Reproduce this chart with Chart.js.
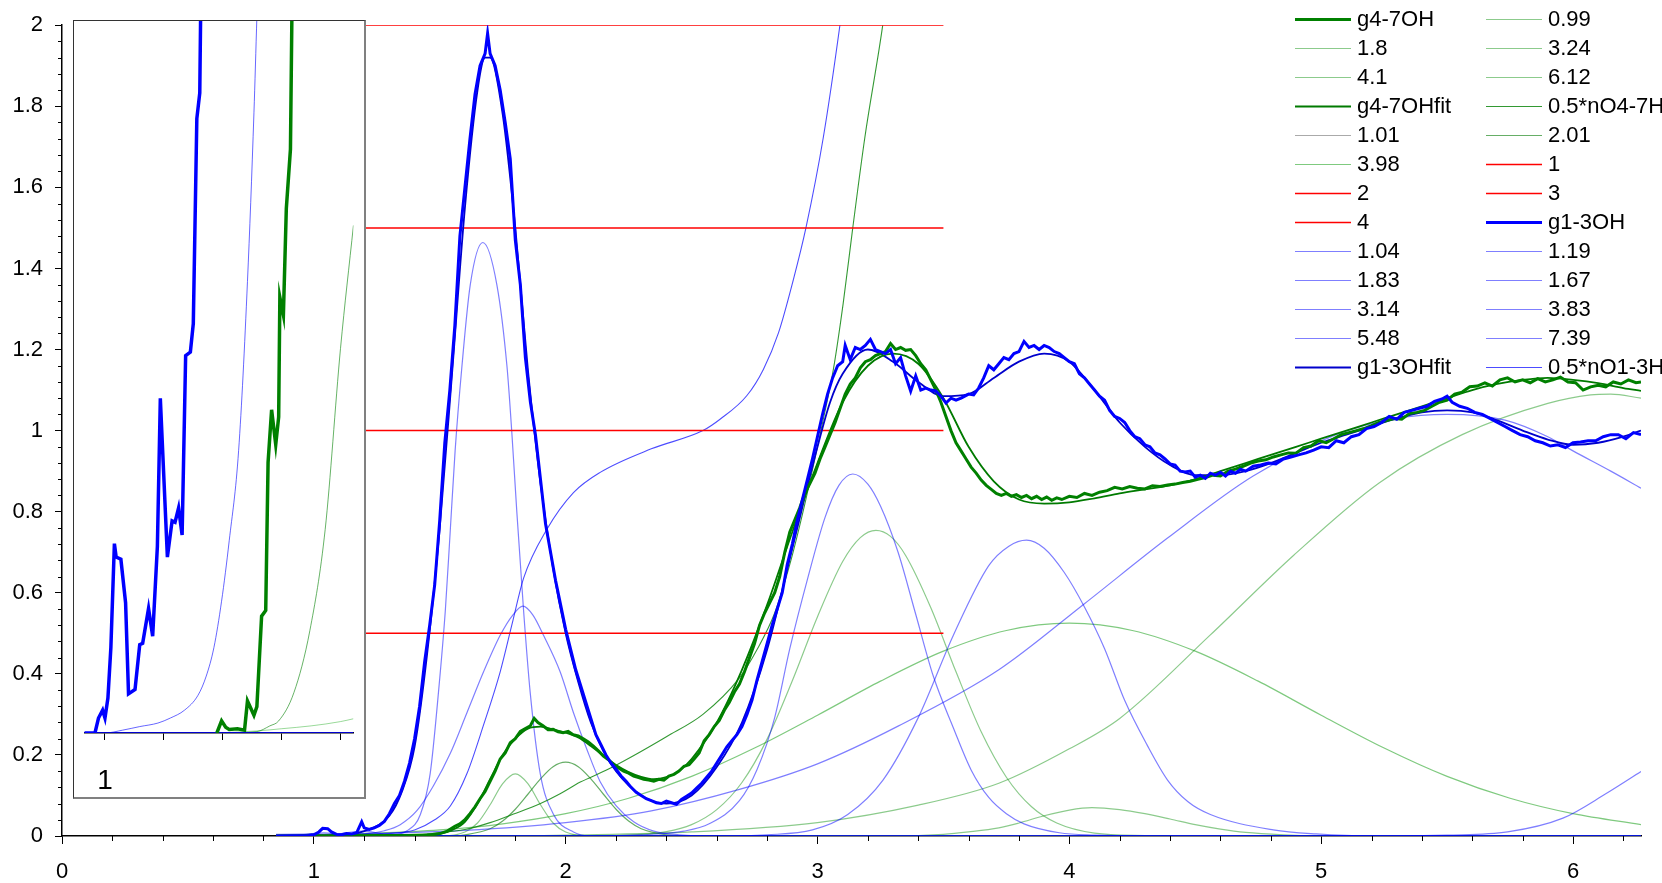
<!DOCTYPE html>
<html>
<head>
<meta charset="utf-8">
<script src="https://cdn.jsdelivr.net/npm/chart.js@4.4.1/dist/chart.umd.min.js"></script>
<style>
  html, body { margin: 0; padding: 0; background: #fff; }
  #wrap { position: relative; width: 1662px; height: 883px; }
  canvas { display: block; }
  #inset {
    position: absolute; left: 73px; top: 20px; width: 290px; height: 776px; background: #fff;
    border-left: 1px solid #333; border-top: 1px solid #333;
    border-right: 2px solid #808080; border-bottom: 2px solid #808080;
  }
</style>
</head>
<body>
<div id="wrap">
  <canvas id="chart" width="1662" height="883"></canvas>
  <div id="inset"><canvas id="insetChart" width="290" height="776"></canvas></div>
</div>
<script>
// axis ranges
const xMin = 0, xMax = 6.27, yMin = 0, yMax = 2;
const xStep = 1, yStep = 0.2, xMinor = 0.2, yMinor = 0.04;
const baseStart = 0.85;

// measured g(r) curves, [r, g]
const g47Data = [[0.85,0],[1.45,0.002],[1.5,0.006],[1.53,0.012],[1.56,0.024],[1.58,0.03],[1.6,0.04],[1.62,0.055],[1.64,0.072],[1.66,0.092],[1.68,0.11],[1.7,0.135],[1.72,0.16],[1.74,0.19],[1.76,0.205],[1.78,0.23],[1.8,0.24],[1.82,0.258],[1.84,0.265],[1.86,0.272],[1.875,0.29],[1.89,0.28],[1.91,0.272],[1.93,0.262],[1.95,0.263],[1.97,0.257],[1.99,0.255],[2.01,0.258],[2.03,0.25],[2.05,0.247],[2.07,0.24],[2.09,0.232],[2.11,0.222],[2.13,0.21],[2.15,0.197],[2.17,0.188],[2.19,0.176],[2.21,0.168],[2.23,0.16],[2.25,0.155],[2.27,0.148],[2.29,0.144],[2.31,0.14],[2.33,0.138],[2.35,0.135],[2.37,0.14],[2.39,0.138],[2.41,0.148],[2.43,0.152],[2.45,0.16],[2.47,0.172],[2.49,0.176],[2.51,0.19],[2.53,0.205],[2.55,0.235],[2.57,0.25],[2.59,0.27],[2.61,0.285],[2.63,0.31],[2.65,0.33],[2.67,0.355],[2.69,0.375],[2.71,0.405],[2.73,0.44],[2.75,0.475],[2.77,0.52],[2.79,0.55],[2.81,0.575],[2.83,0.6],[2.85,0.64],[2.87,0.7],[2.89,0.75],[2.91,0.78],[2.93,0.81],[2.95,0.845],[2.97,0.87],[2.99,0.895],[3.01,0.93],[3.03,0.96],[3.05,0.99],[3.07,1.02],[3.09,1.055],[3.11,1.09],[3.13,1.115],[3.15,1.13],[3.17,1.155],[3.19,1.17],[3.21,1.175],[3.23,1.185],[3.25,1.19],[3.27,1.195],[3.29,1.215],[3.31,1.2],[3.33,1.205],[3.35,1.198],[3.37,1.2],[3.39,1.185],[3.41,1.165],[3.43,1.15],[3.45,1.125],[3.47,1.1],[3.49,1.07],[3.51,1.035],[3.53,1.0],[3.55,0.97],[3.57,0.95],[3.59,0.93],[3.61,0.91],[3.63,0.895],[3.65,0.878],[3.67,0.865],[3.69,0.855],[3.71,0.845],[3.73,0.84],[3.75,0.845],[3.77,0.838],[3.79,0.842],[3.81,0.835],[3.83,0.84],[3.85,0.832],[3.87,0.838],[3.89,0.83],[3.91,0.836],[3.93,0.828],[3.95,0.834],[3.97,0.83],[4.0,0.838],[4.03,0.835],[4.06,0.845],[4.09,0.84],[4.12,0.848],[4.15,0.852],[4.18,0.86],[4.21,0.856],[4.24,0.862],[4.27,0.858],[4.3,0.856],[4.33,0.864],[4.36,0.862],[4.39,0.866],[4.42,0.868],[4.45,0.872],[4.48,0.875],[4.51,0.88],[4.54,0.884],[4.57,0.89],[4.6,0.888],[4.63,0.9],[4.66,0.905],[4.69,0.912],[4.72,0.92],[4.75,0.925],[4.78,0.928],[4.81,0.935],[4.84,0.94],[4.87,0.945],[4.9,0.944],[4.93,0.958],[4.96,0.962],[4.99,0.975],[5.02,0.97],[5.05,0.98],[5.08,0.99],[5.11,0.995],[5.14,1.0],[5.17,1.005],[5.2,1.012],[5.23,1.02],[5.26,1.025],[5.29,1.03],[5.32,1.028],[5.35,1.042],[5.38,1.045],[5.41,1.05],[5.44,1.06],[5.47,1.07],[5.5,1.075],[5.53,1.09],[5.56,1.095],[5.59,1.108],[5.62,1.11],[5.65,1.118],[5.68,1.11],[5.71,1.125],[5.74,1.13],[5.77,1.12],[5.8,1.125],[5.83,1.118],[5.86,1.128],[5.89,1.12],[5.92,1.125],[5.95,1.132],[5.98,1.12],[6.01,1.118],[6.04,1.1],[6.07,1.108],[6.1,1.112],[6.13,1.108],[6.16,1.12],[6.19,1.115],[6.22,1.125],[6.25,1.118],[6.27,1.12]];

const g13Data = [[0.85,0],[0.98,0.001],[1.0,0.003],[1.02,0.01],[1.035,0.019],[1.055,0.018],[1.07,0.01],[1.09,0.004],[1.11,0.003],[1.13,0.006],[1.15,0.005],[1.17,0.008],[1.19,0.035],[1.2,0.02],[1.22,0.016],[1.24,0.02],[1.26,0.026],[1.28,0.036],[1.3,0.055],[1.32,0.08],[1.34,0.1],[1.36,0.135],[1.38,0.18],[1.4,0.24],[1.42,0.32],[1.44,0.43],[1.46,0.52],[1.48,0.62],[1.5,0.78],[1.52,0.97],[1.54,1.1],[1.56,1.26],[1.58,1.48],[1.6,1.6],[1.62,1.72],[1.64,1.83],[1.66,1.9],[1.68,1.93],[1.69,1.98],[1.7,1.93],[1.72,1.9],[1.74,1.84],[1.76,1.76],[1.78,1.67],[1.8,1.47],[1.82,1.36],[1.84,1.18],[1.86,1.07],[1.88,0.99],[1.9,0.88],[1.92,0.77],[1.94,0.7],[1.96,0.63],[1.98,0.57],[2.0,0.51],[2.02,0.46],[2.04,0.41],[2.06,0.37],[2.08,0.33],[2.1,0.29],[2.12,0.25],[2.14,0.225],[2.16,0.2],[2.18,0.18],[2.2,0.165],[2.22,0.148],[2.24,0.135],[2.26,0.12],[2.28,0.108],[2.3,0.1],[2.32,0.092],[2.34,0.087],[2.36,0.082],[2.38,0.08],[2.4,0.086],[2.42,0.082],[2.44,0.078],[2.46,0.09],[2.48,0.098],[2.5,0.106],[2.52,0.118],[2.54,0.13],[2.56,0.145],[2.58,0.16],[2.6,0.18],[2.62,0.2],[2.64,0.22],[2.66,0.235],[2.68,0.25],[2.7,0.27],[2.72,0.3],[2.74,0.335],[2.76,0.385],[2.78,0.43],[2.8,0.475],[2.82,0.52],[2.84,0.56],[2.86,0.6],[2.88,0.67],[2.9,0.72],[2.92,0.78],[2.94,0.83],[2.96,0.88],[2.98,0.93],[3.0,0.985],[3.02,1.04],[3.04,1.09],[3.06,1.13],[3.08,1.16],[3.1,1.17],[3.11,1.21],[3.13,1.175],[3.15,1.205],[3.17,1.2],[3.19,1.21],[3.21,1.225],[3.23,1.2],[3.25,1.195],[3.27,1.19],[3.29,1.2],[3.31,1.165],[3.33,1.18],[3.35,1.135],[3.37,1.097],[3.39,1.135],[3.41,1.1],[3.43,1.105],[3.45,1.1],[3.47,1.098],[3.49,1.085],[3.51,1.068],[3.53,1.08],[3.55,1.075],[3.57,1.08],[3.6,1.09],[3.62,1.088],[3.64,1.105],[3.66,1.13],[3.68,1.16],[3.7,1.15],[3.72,1.165],[3.74,1.18],[3.76,1.175],[3.78,1.19],[3.8,1.195],[3.82,1.22],[3.84,1.205],[3.86,1.21],[3.88,1.2],[3.9,1.21],[3.92,1.205],[3.94,1.195],[3.96,1.19],[3.98,1.18],[4.0,1.17],[4.02,1.165],[4.04,1.14],[4.06,1.13],[4.08,1.115],[4.1,1.1],[4.12,1.085],[4.14,1.075],[4.16,1.05],[4.18,1.035],[4.2,1.03],[4.22,1.02],[4.24,1.0],[4.26,0.985],[4.28,0.98],[4.3,0.965],[4.32,0.96],[4.34,0.945],[4.36,0.94],[4.38,0.93],[4.4,0.918],[4.42,0.915],[4.44,0.9],[4.46,0.898],[4.48,0.9],[4.5,0.885],[4.52,0.89],[4.54,0.882],[4.56,0.895],[4.58,0.89],[4.6,0.897],[4.62,0.888],[4.64,0.9],[4.66,0.895],[4.68,0.905],[4.7,0.9],[4.73,0.912],[4.76,0.915],[4.79,0.92],[4.82,0.918],[4.85,0.93],[4.88,0.935],[4.91,0.94],[4.94,0.945],[4.97,0.952],[5.0,0.96],[5.03,0.958],[5.06,0.975],[5.09,0.97],[5.12,0.985],[5.15,0.99],[5.18,1.005],[5.21,1.01],[5.24,1.02],[5.27,1.035],[5.3,1.028],[5.33,1.045],[5.36,1.05],[5.39,1.055],[5.42,1.06],[5.45,1.072],[5.48,1.078],[5.5,1.085],[5.52,1.07],[5.55,1.06],[5.58,1.055],[5.61,1.045],[5.64,1.04],[5.67,1.03],[5.7,1.02],[5.73,1.01],[5.76,1.0],[5.79,0.99],[5.82,0.985],[5.85,0.975],[5.88,0.97],[5.91,0.962],[5.94,0.965],[5.97,0.958],[6.0,0.97],[6.03,0.972],[6.06,0.975],[6.09,0.975],[6.12,0.985],[6.15,0.99],[6.18,0.99],[6.21,0.98],[6.24,0.995],[6.27,0.99]];

// fits
const g47Fit = [[0.85,0],[1.45,0.002],[1.5,0.005],[1.55,0.015],[1.6,0.035],[1.65,0.08],[1.7,0.14],[1.75,0.2],[1.8,0.24],[1.85,0.265],[1.9,0.27],[1.95,0.263],[2.0,0.255],[2.05,0.243],[2.1,0.222],[2.15,0.198],[2.2,0.175],[2.25,0.158],[2.3,0.146],[2.35,0.14],[2.4,0.145],[2.45,0.16],[2.5,0.19],[2.6,0.28],[2.7,0.41],[2.8,0.57],[2.9,0.75],[3.0,0.92],[3.1,1.07],[3.2,1.16],[3.3,1.19],[3.4,1.165],[3.5,1.08],[3.6,0.96],[3.7,0.875],[3.8,0.83],[3.9,0.82],[4.0,0.823],[4.1,0.833],[4.2,0.845],[4.3,0.855],[4.4,0.865],[4.5,0.88],[4.6,0.9],[4.7,0.92],[4.8,0.94],[4.9,0.96],[5.0,0.98],[5.1,1.0],[5.2,1.02],[5.3,1.04],[5.4,1.06],[5.5,1.08],[5.6,1.1],[5.7,1.115],[5.8,1.125],[5.9,1.13],[6.0,1.125],[6.1,1.117],[6.2,1.105],[6.27,1.098]];
const g13Fit = [[0.85,0],[1.1,0.002],[1.2,0.012],[1.3,0.05],[1.35,0.11],[1.4,0.22],[1.45,0.45],[1.5,0.76],[1.55,1.15],[1.6,1.55],[1.65,1.84],[1.68,1.92],[1.7,1.92],[1.75,1.78],[1.8,1.5],[1.85,1.15],[1.9,0.87],[1.95,0.66],[2.0,0.5],[2.05,0.38],[2.1,0.28],[2.15,0.21],[2.2,0.16],[2.3,0.1],[2.4,0.08],[2.5,0.1],[2.6,0.17],[2.7,0.28],[2.8,0.46],[2.9,0.71],[3.0,0.96],[3.05,1.07],[3.1,1.14],[3.2,1.2],[3.3,1.17],[3.4,1.12],[3.5,1.085],[3.6,1.09],[3.7,1.13],[3.8,1.17],[3.9,1.19],[4.0,1.17],[4.1,1.1],[4.2,1.02],[4.3,0.96],[4.4,0.915],[4.5,0.89],[4.6,0.89],[4.7,0.9],[4.8,0.92],[4.9,0.945],[5.0,0.97],[5.1,0.99],[5.2,1.01],[5.3,1.03],[5.4,1.045],[5.5,1.05],[5.6,1.045],[5.7,1.025],[5.8,1.0],[5.9,0.978],[6.0,0.965],[6.1,0.97],[6.2,0.985],[6.27,1.0]];

// fitted components (green set)
const c099 = [[0.92,0],[0.96,0.003],[0.99,0.005],[1.03,0.003],[1.08,0]];
const c18 = [[1.5,0],[1.6,0.01],[1.65,0.032],[1.7,0.077],[1.75,0.129],[1.8,0.153],[1.85,0.129],[1.9,0.077],[1.95,0.032],[2.0,0.01],[2.1,0]];
const c324 = [[2.1,0],[2.2,0.001],[2.4,0.011],[2.5,0.028],[2.6,0.065],[2.7,0.132],[2.8,0.239],[2.9,0.383],[3.0,0.541],[3.1,0.677],[3.17,0.736],[3.232,0.754],[3.29,0.739],[3.35,0.692],[3.45,0.563],[3.55,0.405],[3.65,0.257],[3.75,0.145],[3.85,0.072],[3.95,0.032],[4.1,0.007],[4.3,0.001],[4.5,0]];
const c41 = [[3.3,0],[3.5,0.004],[3.6,0.01],[3.72,0.02],[3.8,0.032],[3.9,0.05],[4.0,0.064],[4.09,0.07],[4.2,0.065],[4.3,0.055],[4.4,0.042],[4.5,0.028],[4.6,0.017],[4.7,0.009],[4.85,0.003],[5.0,0]];
const c612 = [[1.8,0],[2.0,0.002],[2.5,0.01],[3.0,0.033],[3.4,0.076],[3.72,0.13],[4.0,0.215],[4.2,0.29],[4.56,0.496],[4.89,0.692],[5.23,0.871],[5.56,0.99],[5.9,1.067],[6.07,1.088],[6.15,1.09],[6.27,1.08]];
const c101 = [[0.9,0],[0.96,0.002],[1.01,0.004],[1.07,0.002],[1.15,0]];
const c201 = [[1.55,0],[1.6,0.003],[1.7,0.018],[1.75,0.037],[1.8,0.066],[1.85,0.103],[1.9,0.141],[1.95,0.171],[2.0,0.182],[2.05,0.171],[2.1,0.141],[2.15,0.103],[2.2,0.066],[2.25,0.037],[2.3,0.018],[2.4,0.003],[2.5,0]];
const c398 = [[0.85,0.001],[1.0,0.003],[1.25,0.007],[1.5,0.015],[1.75,0.03],[2.0,0.055],[2.25,0.093],[2.5,0.147],[2.75,0.217],[3.0,0.298],[3.25,0.382],[3.5,0.456],[3.75,0.507],[4.0,0.525],[4.25,0.507],[4.5,0.456],[4.75,0.382],[5.0,0.298],[5.25,0.217],[5.5,0.147],[5.75,0.093],[6.0,0.055],[6.27,0.028]];
const nO47 = [[1.2,0],[1.4,0.004],[1.5,0.008],[1.6,0.016],[1.7,0.033],[1.793,0.054],[1.9,0.08],[1.978,0.104],[2.058,0.133],[2.16,0.162],[2.26,0.195],[2.4,0.245],[2.545,0.3],[2.69,0.39],[2.76,0.46],[2.83,0.55],[2.89,0.67],[2.95,0.82],[3.023,1.028],[3.063,1.151],[3.102,1.314],[3.14,1.5],[3.188,1.723],[3.259,2.0],[3.3,2.2]];

// fitted components (blue set)
const c104 = [[0.9,0],[0.97,0.004],[1.04,0.008],[1.11,0.004],[1.2,0]];
const c119 = [[1.0,0],[1.1,0.005],[1.19,0.012],[1.28,0.005],[1.4,0]];
const c183 = [[1.1,0],[1.2,0.005],[1.28,0.013],[1.343,0.028],[1.41,0.063],[1.475,0.124],[1.542,0.204],[1.608,0.304],[1.674,0.405],[1.74,0.495],[1.79,0.545],[1.83,0.567],[1.87,0.545],[1.912,0.495],[1.978,0.405],[2.031,0.304],[2.084,0.214],[2.137,0.134],[2.2,0.075],[2.27,0.035],[2.35,0.012],[2.45,0.003],[2.6,0]];
const c167 = [[1.2,0],[1.3,0.002],[1.37,0.013],[1.423,0.053],[1.462,0.154],[1.495,0.355],[1.522,0.555],[1.542,0.756],[1.561,0.95],[1.588,1.158],[1.621,1.359],[1.671,1.464],[1.727,1.359],[1.767,1.158],[1.786,0.997],[1.806,0.8],[1.833,0.555],[1.859,0.355],[1.899,0.154],[1.952,0.053],[2.031,0.01],[2.1,0]];
const c314 = [[2.0,0],[2.3,0.003],[2.47,0.012],[2.57,0.03],[2.69,0.087],[2.76,0.164],[2.83,0.292],[2.89,0.462],[2.96,0.633],[3.03,0.786],[3.085,0.865],[3.14,0.893],[3.2,0.868],[3.25,0.814],[3.32,0.7],[3.39,0.547],[3.46,0.394],[3.54,0.266],[3.61,0.163],[3.68,0.095],[3.75,0.055],[3.82,0.03],[3.96,0.008],[4.1,0.002],[4.3,0]];
const c383 = [[2.6,0],[2.8,0.003],[2.98,0.015],[3.12,0.053],[3.26,0.138],[3.4,0.292],[3.54,0.496],[3.68,0.667],[3.76,0.715],[3.83,0.73],[3.9,0.71],[3.98,0.65],[4.06,0.565],[4.14,0.462],[4.22,0.334],[4.31,0.223],[4.39,0.138],[4.47,0.085],[4.56,0.053],[4.81,0.015],[4.98,0.005],[5.2,0]];
const c548 = [[0.85,0.004],[1.2,0.006],[1.6,0.014],[2.0,0.033],[2.34,0.062],[2.69,0.115],[3.0,0.178],[3.32,0.271],[3.72,0.41],[4.06,0.573],[4.39,0.735],[4.73,0.888],[5.06,0.99],[5.3,1.03],[5.5,1.04],[5.73,1.026],[5.9,0.985],[6.0,0.95],[6.15,0.9],[6.27,0.858]];
const c739 = [[5.3,0],[5.5,0.002],[5.74,0.01],[5.96,0.044],[6.13,0.104],[6.27,0.159]];
const nO13 = [[1.0,0],[1.1,0.001],[1.2,0.003],[1.3,0.006],[1.4,0.015],[1.48,0.04],[1.542,0.074],[1.608,0.154],[1.674,0.274],[1.74,0.405],[1.79,0.53],[1.833,0.636],[1.925,0.756],[2.031,0.847],[2.137,0.897],[2.34,0.955],[2.545,1.0],[2.613,1.028],[2.719,1.086],[2.785,1.151],[2.845,1.241],[2.904,1.372],[2.954,1.5],[3.023,1.723],[3.089,2.0],[3.13,2.2]];

// red reference levels
const redLabels = ['1', '2', '3', '4'];
const redLevels = [0.5, 1, 1.5, 2];
const redFrom = 1.2, redTo = 3.5;

// inset (zoomed onset), x in r, y relative
const insetXMin = 0.965, insetXMax = 1.422;
const insetBlue = [[0.965,0],[0.983,0],[0.989,0.021],[0.996,0.032],[1.0,0.021],[1.005,0.049],[1.01,0.12],[1.016,0.266],[1.019,0.247],[1.027,0.244],[1.035,0.183],[1.04,0.055],[1.051,0.061],[1.059,0.124],[1.064,0.126],[1.074,0.175],[1.081,0.136],[1.089,0.262],[1.094,0.47],[1.106,0.247],[1.114,0.298],[1.119,0.296],[1.125,0.316],[1.131,0.278],[1.137,0.53],[1.145,0.535],[1.15,0.575],[1.156,0.863],[1.161,0.899],[1.163,1.05]];
const insetBlueThin = [[0.965,0],[1.0,0],[1.03,0.004],[1.059,0.009],[1.09,0.014],[1.111,0.021],[1.135,0.032],[1.158,0.053],[1.172,0.08],[1.185,0.12],[1.198,0.185],[1.211,0.27],[1.227,0.397],[1.242,0.634],[1.253,0.871],[1.258,1.006]];
const insetBlueBase = [[0.965,0],[1.422,0]];
const insetGreen = [[1.19,0],[1.198,0.017],[1.205,0.008],[1.211,0.005],[1.225,0.006],[1.237,0.004],[1.242,0.045],[1.253,0.025],[1.258,0.037],[1.266,0.164],[1.273,0.172],[1.277,0.38],[1.283,0.454],[1.29,0.405],[1.295,0.444],[1.297,0.612],[1.303,0.587],[1.308,0.737],[1.315,0.82],[1.318,1.05]];
const insetGreenThin = [[1.2,0],[1.258,0.002],[1.28,0.01],[1.295,0.017],[1.321,0.057],[1.348,0.144],[1.374,0.286],[1.4,0.54],[1.422,0.713]];
const insetGreenFlat = [[1.19,0],[1.26,0.003],[1.3,0.006],[1.35,0.01],[1.4,0.016],[1.422,0.02]];

const FONT = "'Liberation Sans', Arial, sans-serif";
Chart.defaults.font.family = FONT;
Chart.defaults.color = '#000';

const toPts = arr => arr.map(([x, y]) => ({x, y}));
function withBase(arr) {
    const out = arr.slice();
    if (out[0][0] > baseStart) out.unshift([baseStart, 0]);
    if (out[out.length - 1][0] < xMax) out.push([xMax, 0]);
    return toPts(out);
}

function series(label, data, color, width, order, smooth) {
    return {
        label, data,
        borderColor: color, borderWidth: width,
        pointRadius: 0, fill: false, order,
        tension: 0,
        cubicInterpolationMode: smooth ? 'monotone' : 'default'
    };
}

const paleGreen = 'rgba(0,140,0,0.45)';
const paleBlue = 'rgba(0,0,255,0.5)';

const datasets = [
    series('g4-7OH', toPts(g47Data), '#008000', 3, 1, false),
    series('0.99', withBase(c099), paleGreen, 1.2, 6, true),
    series('1.8', withBase(c18), paleGreen, 1.2, 6, true),
    series('3.24', withBase(c324), paleGreen, 1.2, 6, true),
    series('4.1', withBase(c41), paleGreen, 1.2, 6, true),
    series('6.12', withBase(c612), paleGreen, 1.2, 6, true),
    series('g4-7OHfit', toPts(g47Fit), '#007a00', 1.8, 2, true),
    series('0.5*nO4-7H', toPts(nO47), 'rgba(0,128,0,0.8)', 1.1, 5, true),
    series('1.01', withBase(c101), '#aaaaaa', 1, 6, true),
    series('2.01', withBase(c201), 'rgba(0,120,0,0.6)', 1.2, 6, true),
    series('3.98', withBase(c398), 'rgba(0,150,0,0.5)', 1.2, 6, true)
];
redLabels.forEach((lbl, i) => {
    datasets.push(series(lbl, [{x: redFrom, y: redLevels[i]}, {x: redTo, y: redLevels[i]}], '#ff0000', 1.5, 4, false));
});
datasets.push(
    series('g1-3OH', toPts(g13Data), '#0000ff', 3, 0, false),
    series('1.04', withBase(c104), paleBlue, 1.2, 5.5, true),
    series('1.19', withBase(c119), paleBlue, 1.2, 5.5, true),
    series('1.83', withBase(c183), paleBlue, 1.2, 5.5, true),
    series('1.67', withBase(c167), paleBlue, 1.2, 5.5, true),
    series('3.14', withBase(c314), paleBlue, 1.2, 5.5, true),
    series('3.83', withBase(c383), paleBlue, 1.2, 5.5, true),
    series('5.48', withBase(c548), paleBlue, 1.2, 5.5, true),
    series('7.39', withBase(c739), paleBlue, 1.2, 5.5, true),
    series('g1-3OHfit', toPts(g13Fit), '#0000cc', 1.8, 2, true),
    series('0.5*nO1-3H', toPts(nO13), 'rgba(0,0,255,0.7)', 1.1, 5, true)
);

// minor ticks on both axes
const minorTicks = {
    id: 'minorTicks',
    afterDraw(chart) {
        const {ctx, chartArea, scales} = chart;
        ctx.save();
        ctx.strokeStyle = '#000';
        ctx.lineWidth = 1;
        ctx.beginPath();
        const perX = Math.round(xStep / xMinor);
        const nx = Math.floor((xMax - xMin) / xMinor + 1e-6);
        for (let k = 1; k <= nx; k++) {
            if (k % perX === 0) continue;
            const px = Math.round(scales.x.getPixelForValue(xMin + k * xMinor)) + 0.5;
            ctx.moveTo(px, chartArea.bottom);
            ctx.lineTo(px, chartArea.bottom + 5);
        }
        const perY = Math.round(yStep / yMinor);
        const ny = Math.round((yMax - yMin) / yMinor);
        for (let k = 1; k < ny; k++) {
            if (k % perY === 0) continue;
            const py = Math.round(scales.y.getPixelForValue(yMin + k * yMinor)) + 0.5;
            ctx.moveTo(chartArea.left, py);
            ctx.lineTo(chartArea.left - 4, py);
        }
        ctx.stroke();
        ctx.restore();
    }
};

// two-column legend, row by row
const twoColLegend = {
    id: 'twoColLegend',
    afterDraw(chart, args, o) {
        const ctx = chart.ctx;
        ctx.save();
        ctx.font = o.font;
        ctx.textBaseline = 'middle';
        ctx.fillStyle = '#000';
        chart.data.datasets.forEach((ds, i) => {
            const col = i % 2, row = Math.floor(i / 2);
            const x = o.colX[col], y = o.top + row * o.rowH;
            ctx.strokeStyle = ds.borderColor;
            ctx.lineWidth = ds.borderWidth;
            ctx.beginPath();
            ctx.moveTo(x, y + 0.5);
            ctx.lineTo(x + o.lineLen, y + 0.5);
            ctx.stroke();
            ctx.fillText(ds.label, x + o.lineLen + o.gap, y + 1);
        });
        ctx.restore();
    }
};

new Chart(document.getElementById('chart'), {
    type: 'line',
    data: {datasets},
    options: {
        responsive: false,
        animation: false,
        devicePixelRatio: 1,
        layout: {padding: {top: 20, right: 21, left: 0, bottom: 0}},
        scales: {
            x: {
                type: 'linear', min: xMin, max: xMax,
                afterFit: s => { s.height = 47; },
                border: {display: true, color: '#000', width: 1.5},
                grid: {display: true, drawOnChartArea: false, drawTicks: true, tickLength: 8, color: '#000'},
                ticks: {stepSize: xStep, includeBounds: false, autoSkip: false, maxRotation: 0, padding: 15,
                        font: {size: 22}, color: '#000'}
            },
            y: {
                type: 'linear', min: yMin, max: yMax,
                afterFit: s => { s.width = 62; },
                border: {display: true, color: '#000', width: 1.5},
                grid: {display: true, drawOnChartArea: false, drawTicks: true, tickLength: 7, color: '#000'},
                ticks: {stepSize: yStep, autoSkip: false, padding: 12, font: {size: 22}, color: '#000',
                        callback: v => String(+v.toFixed(2))}
            }
        },
        plugins: {
            legend: {display: false},
            tooltip: {enabled: false},
            twoColLegend: {font: '22px ' + FONT, colX: [1295, 1486], top: 19, rowH: 29, lineLen: 56, gap: 6}
        }
    },
    plugins: [minorTicks, twoColLegend]
});

// inset
new Chart(document.getElementById('insetChart'), {
    type: 'line',
    data: {
        datasets: [
            series('g1-3OH', toPts(insetBlue), '#0000ff', 3.5, 0, false),
            series('g4-7OH', toPts(insetGreen), '#008000', 3.5, 1, false),
            series('fit', toPts(insetBlueBase), '#0000cc', 2, 2, false),
            series('blue', toPts(insetBlueThin), 'rgba(0,0,255,0.6)', 1, 3, true),
            series('green', toPts(insetGreenThin), 'rgba(0,128,0,0.6)', 1, 3, true),
            series('green2', toPts(insetGreenFlat), 'rgba(0,160,0,0.4)', 1, 3, true)
        ]
    },
    options: {
        responsive: false,
        animation: false,
        devicePixelRatio: 1,
        layout: {padding: 0},
        scales: {
            x: {
                type: 'linear', min: insetXMin, max: insetXMax,
                afterFit: s => { s.height = 64; },
                border: {display: true, color: '#000', width: 1.5},
                grid: {display: true, drawOnChartArea: false, drawTicks: true, tickLength: 7, color: '#000'},
                ticks: {stepSize: 0.1, includeBounds: false, autoSkip: false, maxRotation: 0, padding: 24,
                        font: {size: 28}, color: '#000',
                        callback: v => (Math.abs(v - 1) < 1e-6 ? '1' : '')}
            },
            y: {type: 'linear', min: 0, max: 1, display: false}
        },
        plugins: {legend: {display: false}, tooltip: {enabled: false}}
    }
});
</script>
</body>
</html>
